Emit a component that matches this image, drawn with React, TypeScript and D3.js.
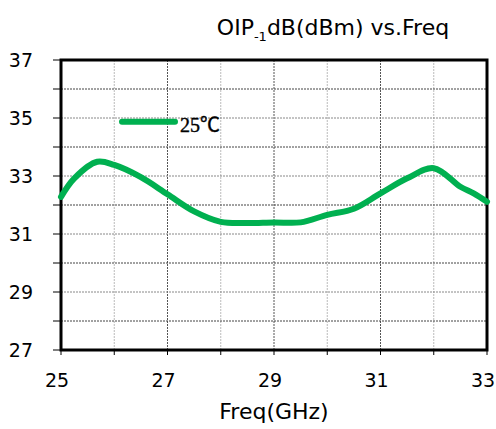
import React from "react";
import * as d3 from "d3";

const freqs = [25, 25.25, 25.68, 26, 26.5, 27, 27.5, 28, 28.5, 29, 29.5, 30, 30.5, 31, 31.5, 32, 32.5, 32.75, 33];
const oip = [32.28, 32.92, 33.49, 33.38, 32.96, 32.37, 31.78, 31.42, 31.38, 31.4, 31.4, 31.66, 31.87, 32.4, 32.92, 33.27, 32.63, 32.4, 32.11];
const xTicks = [25, 27, 29, 31, 33];
const yTicks = [27, 29, 31, 33, 35, 37];
const legendTemp = "25";
const legendUnit = "℃";

const W = 496;
const H = 429;
const left = 61;
const right = 487;
const top = 60;
const bottom = 350;
const font = "'DejaVu Sans', Tahoma, sans-serif";
const green = "#00b050";

export default function App() {
  const x = d3.scaleLinear().domain([25, 33]).range([left, right]);
  const y = d3.scaleLinear().domain([27, 37]).range([bottom, top]);
  const line = d3
    .line<number>()
    .x((_, i) => x(freqs[i]))
    .y((d) => y(d))
    .curve(d3.curveCatmullRom.alpha(0.5));

  const xAll = d3.range(25, 34, 1);
  const yAll = d3.range(27, 38, 1);

  return (
    <svg width={W} height={H} style={{ position: "absolute", left: 0, top: 0, background: "#fff" }}>
      {/* vertical grid */}
      {xAll.slice(1, -1).map((v) => (
        <line
          key={"vx" + v}
          x1={x(v)}
          x2={x(v)}
          y1={top}
          y2={bottom}
          stroke={v % 2 === 1 ? "#555" : "#bbb"}
          strokeWidth={1}
          strokeDasharray="2,1"
        />
      ))}
      {/* horizontal grid */}
      {yAll.slice(1, -1).map((v) => (
        <line
          key={"hy" + v}
          x1={left}
          x2={right}
          y1={y(v)}
          y2={y(v)}
          stroke={v % 2 === 0 ? "#444" : "#888"}
          strokeWidth={1}
          strokeDasharray="2,1"
        />
      ))}
      {/* tick marks */}
      {yAll.map((v) => (
        <line key={"ty" + v} x1={left - 8} x2={left} y1={y(v)} y2={y(v)} stroke="#000" strokeWidth={1} />
      ))}
      {xAll.map((v) => (
        <line key={"tx" + v} x1={x(v)} x2={x(v)} y1={bottom} y2={bottom + 5} stroke="#000" strokeWidth={1} />
      ))}
      <rect x={left} y={top} width={right - left} height={bottom - top} fill="none" stroke="#000" strokeWidth={3} />

      <path d={line(oip) || ""} fill="none" stroke={green} strokeWidth={6} strokeLinejoin="round" strokeLinecap="round" />

      {yTicks.map((v) => (
        <text key={"ly" + v} x={33} y={y(v)} dy="0.36em" textAnchor="end" fontFamily={font} fontSize={19}>
          {v}
        </text>
      ))}
      {xTicks.map((v) => (
        <text key={"lx" + v} x={x(v) - 4} y={387} textAnchor="middle" fontFamily={font} fontSize={19}>
          {v}
        </text>
      ))}

      <line x1={122} x2={175} y1={121.7} y2={121.7} stroke={green} strokeWidth={6} strokeLinecap="round" />
      <text x={180} y={132} fontSize={20} stroke="#000" strokeWidth={0.4}>
        <tspan fontFamily="'Liberation Serif'">{legendTemp}</tspan>
        <tspan fontFamily="'Noto Sans CJK SC'">{legendUnit}</tspan>
      </text>

      <text x={333} y={35} textAnchor="middle" fontFamily={font} fontSize={22}>
        OIP<tspan fontSize={13} dy={6}>-1</tspan>
        <tspan dy={-6}>dB(dBm) vs.Freq</tspan>
      </text>
      <text x={274} y={419} textAnchor="middle" fontFamily={font} fontSize={22}>
        Freq(GHz)
      </text>
    </svg>
  );
}
